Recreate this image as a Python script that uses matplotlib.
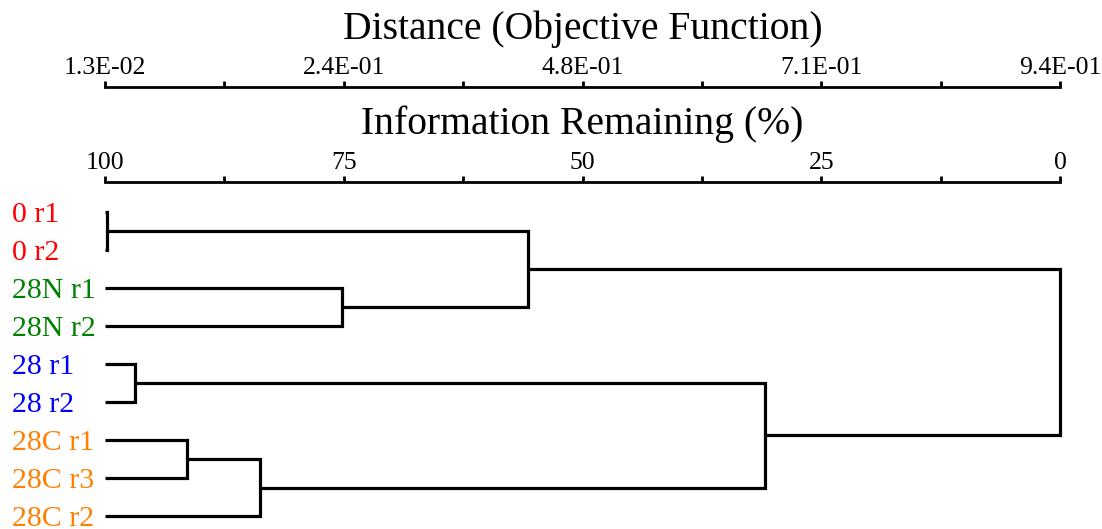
import matplotlib
matplotlib.use('Agg')
import matplotlib.pyplot as plt
from matplotlib.transforms import blended_transform_factory

plt.rcParams['font.family'] = ['Liberation Serif', 'DejaVu Serif']

# leaves, top to bottom
labels = ['0 r1', '0 r2', '28N r1', '28N r2', '28 r1', '28 r2', '28C r1', '28C r3', '28C r2']
label_colors = ['#ff0000', '#ff0000', '#008000', '#008000', '#0000ff', '#0000ff',
                '#ff8000', '#ff8000', '#ff8000']

# merges: (child a, child b, information remaining %), new clusters numbered from 9
merges = [(0, 1, 99.8), (2, 3, 75.2), (9, 10, 55.7), (4, 5, 96.9),
          (6, 7, 91.4), (13, 8, 83.8), (12, 14, 30.9), (11, 15, 0.0)]

info_ticks = [100, 87.5, 75, 62.5, 50, 37.5, 25, 12.5, 0]
info_labels = ['100', '', '75', '', '50', '', '25', '', '0']
dist_labels = ['1.3E-02', '', '2.4E-01', '', '4.8E-01', '', '7.1E-01', '', '9.4E-01']

W, H = 1102, 529
fig = plt.figure(figsize=(W / 100, H / 100), dpi=100)

x0, x1 = 105, 1060
ax = fig.add_axes([x0 / W, 1 - 516 / H, (x1 - x0) / W, (516 - 212) / H])
ax.set_xlim(100, 0)
ax.set_ylim(len(labels) - 1, 0)
ax.axis('off')

lw = 2.3
pos = {i: (100.0, float(i)) for i in range(len(labels))}
for k, (a, b, h) in enumerate(merges):
    ha, ya = pos[a]
    hb, yb = pos[b]
    ax.plot([ha, h, h, hb], [ya, ya, yb, yb], color='black', lw=lw,
            solid_joinstyle='miter', solid_capstyle='butt', clip_on=False)
    pos[len(labels) + k] = (h, (ya + yb) / 2)

tr = blended_transform_factory(fig.transFigure, ax.transData)
for i, (lab, c) in enumerate(zip(labels, label_colors)):
    ax.text(12 / W, i, lab, color=c, fontsize=21.5, ha='left', va='center_baseline',
            transform=tr)


def scale_axis(ypix, ticklabels, title):
    sa = fig.add_axes([x0 / W, 1 - (ypix + 5) / H, (x1 - x0) / W, 5 / H])
    sa.set_xlim(100, 0)
    sa.set_yticks([])
    for s in ['left', 'right', 'bottom']:
        sa.spines[s].set_visible(False)
    sa.spines['top'].set_linewidth(2.0)
    sa.patch.set_visible(False)
    sa.xaxis.tick_top()
    sa.xaxis.set_label_position('top')
    sa.set_xticks(info_ticks)
    sa.set_xticklabels(ticklabels)
    sa.tick_params(axis='x', direction='out', length=4.5, width=2.0, pad=1, labelsize=18.5)
    sa.set_xlabel(title, fontsize=28.5, labelpad=13)
    return sa


scale_axis(87, dist_labels, 'Distance (Objective Function)')
scale_axis(182, info_labels, 'Information Remaining (%)')

fig.savefig('out.png', dpi=100)
